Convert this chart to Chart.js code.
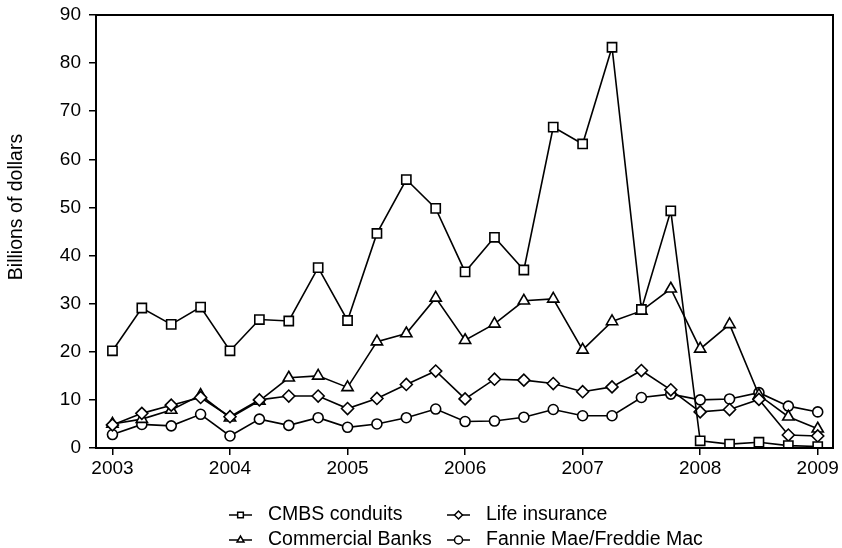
<!DOCTYPE html>
<html>
<head>
<meta charset="utf-8">
<script src="https://cdn.jsdelivr.net/npm/chart.js@4/dist/chart.umd.min.js"></script>
<style>
  html, body { margin: 0; padding: 0; background: #fff; }
  #wrap { width: 842px; height: 548px; }
</style>
</head>
<body>
<div id="wrap"><canvas id="myChart" width="842" height="548"></canvas></div>
<script>
// quarters, 2003 Q1 .. 2009 Q1
const quarters = [2003, 2003.25, 2003.5, 2003.75, 2004, 2004.25, 2004.5, 2004.75,
  2005, 2005.25, 2005.5, 2005.75, 2006, 2006.25, 2006.5, 2006.75,
  2007, 2007.25, 2007.5, 2007.75, 2008, 2008.25, 2008.5, 2008.75, 2009];

const cmbs = [20.2, 29.1, 25.7, 29.3, 20.2, 26.7, 26.4, 37.5, 26.5, 44.6, 55.8, 49.8,
  36.6, 43.8, 37.0, 66.7, 63.2, 83.3, 28.8, 49.3, 1.5, 0.8, 1.2, 0.5, 0.3];
const lifeIns = [4.8, 7.2, 8.9, 10.5, 6.5, 10.0, 10.8, 10.8, 8.2, 10.3, 13.2, 16.0,
  10.2, 14.3, 14.1, 13.4, 11.7, 12.7, 16.1, 12.1, 7.5, 8.0, 10.1, 2.7, 2.5];
const banks = [5.0, 6.0, 7.9, 11.0, 6.3, 9.8, 14.6, 15.0, 12.6, 22.1, 23.8, 31.2,
  22.4, 25.8, 30.6, 31.0, 20.4, 26.3, 28.5, 33.1, 20.6, 25.7, 11.0, 6.5, 4.0];
const fannieFreddie = [2.8, 4.9, 4.6, 7.0, 2.5, 6.0, 4.7, 6.3, 4.3, 5.0, 6.3, 8.1,
  5.5, 5.6, 6.4, 8.0, 6.7, 6.7, 10.5, 11.2, 10.0, 10.2, 11.5, 8.7, 7.5];

const seriesNames = ["CMBS conduits", "Life insurance", "Commercial Banks", "Fannie Mae/Freddie Mac"];
const yearTicks = [2003, 2004, 2005, 2006, 2007, 2008, 2009];
const yTitle = "Billions of dollars";

const FONT = "Liberation Sans, Arial, Helvetica, sans-serif";

function toPoints(values) {
  return values.map((v, i) => ({ x: quarters[i], y: v }));
}

function makeDataset(label, values, style, radius) {
  return {
    label: label,
    data: toPoints(values),
    borderColor: "#000",
    borderWidth: 1.6,
    tension: 0,
    pointStyle: style,
    pointRadius: radius,
    pointHoverRadius: radius,
    pointBackgroundColor: "#fff",
    pointBorderColor: "#000",
    pointBorderWidth: 1.6,
    fill: false
  };
}

// frame round the plot area + y title (sits a bit above centre in the original)
const framePlugin = {
  id: "frame",
  afterDatasetsDraw(chart) {
    const { ctx, chartArea: a } = chart;
    ctx.save();
    ctx.strokeStyle = "#000";
    ctx.lineWidth = 2;
    ctx.strokeRect(a.left, a.top, a.right - a.left, a.bottom - a.top);

    ctx.translate(17, 207);
    ctx.rotate(-Math.PI / 2);
    ctx.fillStyle = "#000";
    ctx.font = "19.5px " + FONT;
    ctx.textAlign = "center";
    ctx.textBaseline = "middle";
    ctx.fillText(yTitle, 0, 0);
    ctx.restore();
  }
};

// two-column legend under the chart
const legendPlugin = {
  id: "twoColLegend",
  afterDraw(chart) {
    const ctx = chart.ctx;
    const spots = [[229, 515], [447, 515], [229, 540], [447, 540]];
    ctx.save();
    chart.data.datasets.forEach((ds, i) => {
      const [x, y] = spots[i];
      ctx.strokeStyle = "#000";
      ctx.lineWidth = 1.5;
      ctx.beginPath();
      ctx.moveTo(x, y);
      ctx.lineTo(x + 23, y);
      ctx.stroke();
      ctx.fillStyle = "#fff";
      Chart.helpers.drawPoint(ctx, { pointStyle: ds.pointStyle, radius: 4, rotation: 0, borderWidth: 1.2 }, x + 11.5, y);
      ctx.fillStyle = "#000";
      ctx.font = "19.5px " + FONT;
      ctx.textBaseline = "middle";
      ctx.textAlign = "left";
      ctx.fillText(ds.label, x + 39, y);
    });
    ctx.restore();
  }
};

const ctx = document.getElementById("myChart").getContext("2d");
const chart = new Chart(ctx, {
  type: "line",
  data: {
    datasets: [
      makeDataset(seriesNames[0], cmbs, "rect", 6.5),
      makeDataset(seriesNames[1], lifeIns, "rectRot", 6),
      makeDataset(seriesNames[2], banks, "triangle", 6.5),
      makeDataset(seriesNames[3], fannieFreddie, "circle", 5)
    ]
  },
  options: {
    responsive: false,
    animation: false,
    layout: { padding: { left: 0, top: 15, right: 9, bottom: 0 } },
    plugins: {
      legend: { display: false },
      tooltip: { enabled: false }
    },
    scales: {
      x: {
        type: "linear",
        min: 2002.86,
        max: 2009.13,
        afterBuildTicks: (scale) => { scale.ticks = yearTicks.map(v => ({ value: v })); },
        afterFit: (scale) => {
          scale.height = 100;
          scale.paddingLeft = 0;
          scale.paddingRight = 0;
        },
        ticks: {
          callback: (v) => String(v),
          color: "#000",
          font: { family: FONT, size: 19 },
          padding: 2,
          maxRotation: 0
        },
        grid: { drawOnChartArea: false, drawTicks: true, tickLength: 7, color: "#000", lineWidth: 1.5 },
        border: { display: true, color: "#000", width: 2 }
      },
      y: {
        min: 0,
        max: 90,
        afterFit: (scale) => {
          scale.width = 96;
          scale.paddingTop = 0;
          scale.paddingBottom = 0;
        },
        ticks: {
          stepSize: 10,
          color: "#000",
          font: { family: FONT, size: 19 },
          padding: 8
        },
        grid: { drawOnChartArea: false, drawTicks: true, tickLength: 7, color: "#000", lineWidth: 1.5 },
        border: { display: true, color: "#000", width: 2 }
      }
    }
  },
  plugins: [framePlugin, legendPlugin]
});
</script>
</body>
</html>
